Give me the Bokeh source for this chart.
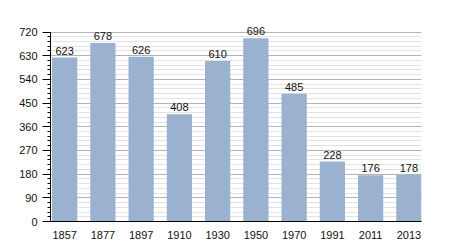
from bokeh.plotting import figure
from bokeh.models import ColumnDataSource, Range1d, FixedTicker, LabelSet
from bokeh.core.properties import value
from bokeh.embed import file_html
from bokeh.resources import INLINE

years = ["1857", "1877", "1897", "1910", "1930", "1950", "1970", "1991", "2011", "2013"]
population = [623, 678, 626, 408, 610, 696, 485, 228, 176, 178]
labels = [str(v) for v in population]
y_major = [0, 90, 180, 270, 360, 450, 540, 630, 720]
y_minor = list(range(0, 721, 18))
idx = list(range(len(years)))

src = ColumnDataSource(dict(x=idx, top=population, label=labels))

p = figure(x_range=Range1d(-0.37, 9.33), y_range=Range1d(0, 760), width=450, height=250,
           output_backend="svg", toolbar_location=None,
           min_border_left=50, min_border_right=29, min_border_top=21, min_border_bottom=29)
p.outline_line_color = None
p.background_fill_color = "white"
p.border_fill_color = "white"

p.vbar(x="x", top="top", width=0.66, source=src, fill_color="#9ab2cf", line_color=None)
lbl = LabelSet(x="x", y="top", text="label", source=src, text_align="center", text_baseline="bottom",
               y_offset=3, text_font=value("Liberation Sans"), text_font_size=value("11px"),
               text_color=value("#111111"))
p.add_layout(lbl)

yt = FixedTicker(ticks=y_major, minor_ticks=y_minor)
p.yaxis.ticker = yt
p.yaxis.bounds = (0, 720)
p.ygrid.ticker = yt
p.ygrid.grid_line_color = "#b4b4b4"
p.ygrid.minor_grid_line_color = "#e2e2e2"
p.xgrid.grid_line_color = None

p.xaxis.ticker = FixedTicker(ticks=idx)
p.xaxis.major_label_overrides = {i: y for i, y in zip(idx, years)}

for ax in (p.xaxis, p.yaxis):
    ax.axis_line_color = "black"
    ax.major_label_text_font = "Liberation Sans"
    ax.major_label_text_font_size = "11px"
    ax.major_label_text_color = "#111111"

p.yaxis.major_tick_in = 0
p.yaxis.major_tick_out = 8
p.yaxis.minor_tick_in = 0
p.yaxis.minor_tick_out = 3
p.yaxis.major_tick_line_color = "black"
p.yaxis.minor_tick_line_color = "black"
p.yaxis.major_label_standoff = 5

p.xaxis.major_tick_line_color = None
p.xaxis.minor_tick_line_color = None
p.xaxis.major_label_standoff = 3

open("out.html", "w").write(file_html(p, INLINE))
